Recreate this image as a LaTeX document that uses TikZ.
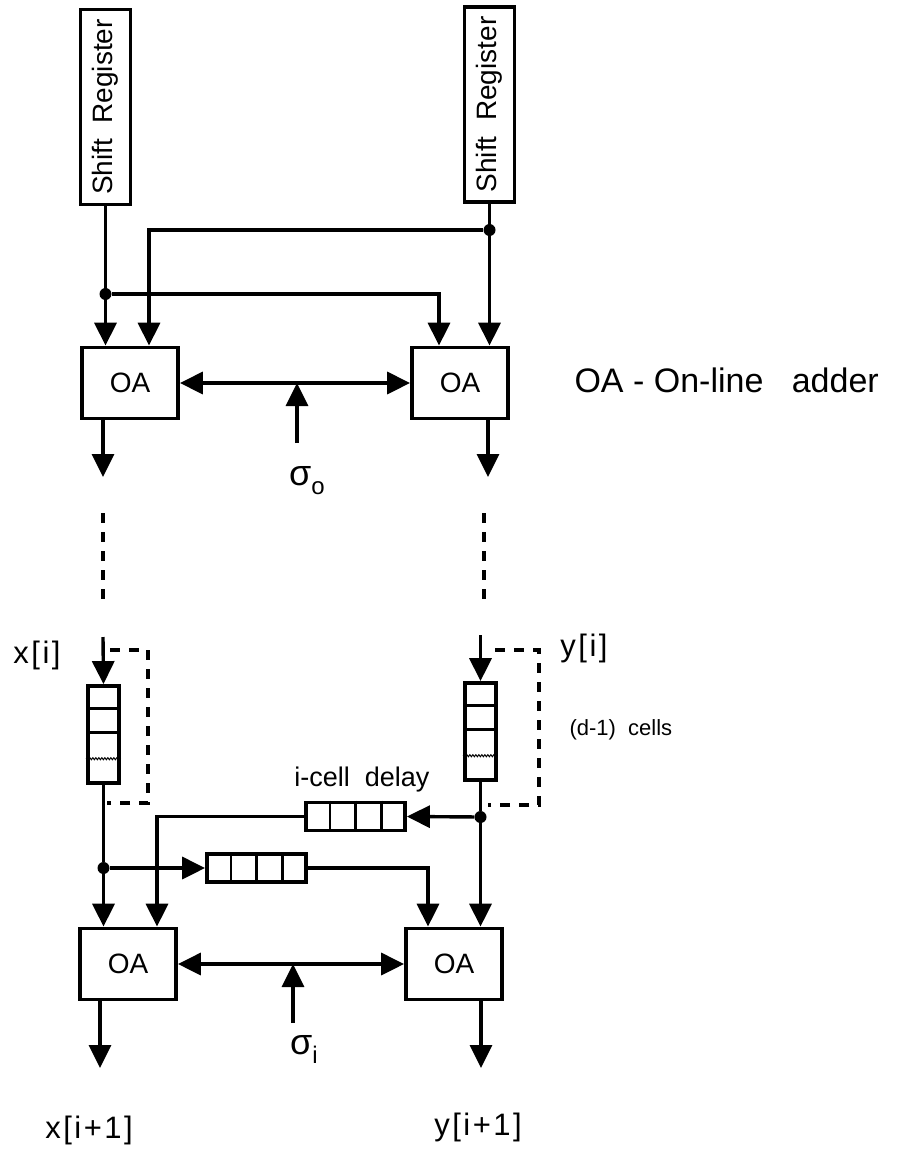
\documentclass[tikz,border=0pt]{standalone}
\usepackage{fontspec}
\setmainfont{Liberation Sans}
\newfontfamily\lblfont[LetterSpace=8]{Liberation Sans}
\usetikzlibrary{arrows.meta,calc,decorations.pathmorphing}

\begin{document}
\begin{tikzpicture}[x=1pt,y=-1pt,
  wire/.style={line width=3.4pt},
  arr/.style={wire,-{Triangle[length=23pt,width=22pt]}},
  dbl/.style={wire,{Triangle[length=23pt,width=22pt]}-{Triangle[length=23pt,width=22pt]}},
  dashwire/.style={line width=3.2pt,dash pattern=on 10pt off 9pt},
  sreg/.style={draw,line width=3.8pt,rotate=90,minimum width=195pt,minimum height=50pt,inner sep=0pt,font=\fontsize{28}{32}\selectfont},
  oa/.style={draw,line width=3.8pt,minimum width=96pt,minimum height=71pt,inner sep=0pt,font=\fontsize{28}{32}\selectfont},
  col/.style={draw,line width=3.8pt,minimum width=31pt,minimum height=97pt,inner sep=0pt},
  dly/.style={draw,line width=3.8pt,minimum width=99pt,minimum height=28pt,inner sep=0pt},
  lbl/.style={font=\lblfont\fontsize{31}{35}\selectfont,inner sep=0pt},
  jdot/.style={circle,fill,inner sep=0pt,minimum size=12pt},
  brk/.style={line width=1pt,decorate,decoration={zigzag,amplitude=1pt,segment length=3pt}}]
  \useasboundingbox (0,0) rectangle (902,1151);

  \node[sreg] (srx) at (105.5,107) {Shift\ \ Register};
  \node[sreg] (sry) at (489.5,104.5) {Shift\ \ Register};
  \node[oa] (oa1) at (130,383) {OA};
  \node[oa] (oa2) at (460,383) {OA};
  \node[oa] (oa3) at (128,964) {OA};
  \node[oa] (oa4) at (454,964) {OA};
  \node[anchor=west,font=\fontsize{34}{40}\selectfont] (legend) at (571,380) {OA - On-line\ \ \ adder};

  \node[jdot] (jx) at (105.5,294) {};
  \node[jdot] (jy) at (489.5,230) {};
  \draw[arr] (srx.west) -- (srx.west |- oa1.north);
  \draw[arr] (sry.west) -- (sry.west |- oa2.north);
  \draw[arr] (jy) -| ([xshift=19pt]oa1.north);
  \draw[arr] (jx) -| ([xshift=-21pt]oa2.north);
  \draw[dbl] (oa1) -- (oa2);
  \coordinate (s0) at (297,443);
  \draw[arr] (s0) -- (s0 |- oa1.east);
  \node[font=\fontsize{36}{40}\selectfont] (sig0) at (307,481) {σ\raisebox{-9pt}{\fontsize{24}{28}\selectfont o}};
  \coordinate (x0) at (103,477);
  \coordinate (y0) at (488,477);
  \draw[arr] (oa1.south -| x0) -- (x0);
  \draw[arr] (oa2.south -| y0) -- (y0);

  % chain of cells between the two stages
  \coordinate (xa) at (103,513);
  \coordinate (xb) at (103,605);
  \coordinate (xc) at (103,637);
  \coordinate (ya) at (484,513);
  \coordinate (yb) at (484,600);
  \coordinate (yc) at (480.5,635);
  \draw[dashwire] (xa) -- (xb);
  \draw[dashwire] (ya) -- (yb);
  \node[col] (colx) at (103.5,734.5) {};
  \node[col] (coly) at (480.5,731.5) {};
  \foreach \c in {colx,coly} {
    \foreach \f in {0.24,0.485}
      \draw[line width=3pt] ($(\c.north west)!\f!(\c.south west)$) -- ($(\c.north east)!\f!(\c.south east)$);
    \draw[brk] ($(\c.north west)!0.74!(\c.south west)$) -- ($(\c.north east)!0.74!(\c.south east)$);
  }
  \draw[arr] (xc) -- (colx.north);
  \draw[arr] (yc) -- (coly.north);
  \draw[dashwire] (110,650) -| (148,803) -- (107,803);
  \draw[dashwire] (495,650) -| (539,805) -- (488,805);
  \node[lbl] (xi) at (37,655) {x[i]};
  \node[lbl] (yi) at (584,648) {y[i]};
  \node[anchor=west,font=\fontsize{22}{26}\selectfont] (cells) at (566,730) {(d-1)\ \ cells};

  % delays into the next stage
  \node[dly] (dly1) at (355.5,816.5) {};
  \node[dly] (dly2) at (256.5,868) {};
  \foreach \d in {dly1,dly2}
    \foreach \f in {0.25,0.5,0.75}
      \draw[line width=2.6pt] ($(\d.north west)!\f!(\d.north east)$) -- ($(\d.south west)!\f!(\d.south east)$);
  \node[font=\fontsize{27}{32}\selectfont] (dlab) at (362,780) {i-cell\ \ delay};
  \node[jdot] (jx2) at (103.5,868) {};
  \node[jdot] (jy2) at (480.5,817) {};
  \draw[wire] (colx.south) -- (jx2);
  \draw[wire] (coly.south) -- (jy2);
  \draw[arr] (jx2) -- (jx2 |- oa3.north);
  \draw[arr] (jy2) -- (jy2 |- oa4.north);
  \draw[arr] (jy2) -- (dly1.east);
  \draw[arr] (dly1.west) -| ([xshift=29pt]oa3.north);
  \draw[arr] (jx2) -- (dly2.west);
  \draw[arr] (dly2.east) -| ([xshift=-26pt]oa4.north);
  \draw[dbl] (oa3) -- (oa4);
  \coordinate (s1) at (293,1023);
  \draw[arr] (s1) -- (s1 |- oa3.east);
  \node[font=\fontsize{36}{40}\selectfont] (sig1) at (304,1049) {σ\raisebox{-9pt}{\fontsize{24}{28}\selectfont i}};
  \coordinate (x1) at (100,1068);
  \coordinate (y1) at (481,1068);
  \draw[arr] (oa3.south -| x1) -- (x1);
  \draw[arr] (oa4.south -| y1) -- (y1);
  \node[lbl] (xi1) at (89,1130) {x[i+1]};
  \node[lbl] (yi1) at (478,1127) {y[i+1]};
\end{tikzpicture}
\end{document}
